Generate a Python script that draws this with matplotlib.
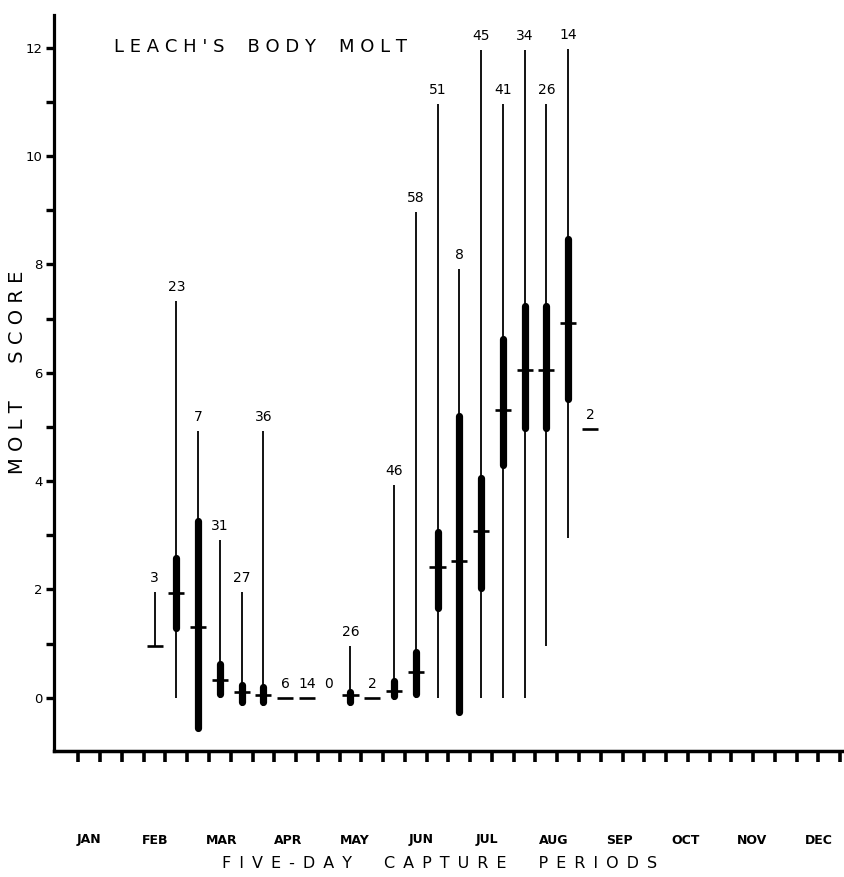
import matplotlib
matplotlib.use("Agg")
import matplotlib.pyplot as plt
import matplotlib.transforms as mtransforms
import numpy as np

# five-day capture periods that have birds (index along the axis)
periods = [3, 4, 5, 6, 7, 8, 9, 10, 11, 12, 13, 14, 15, 16, 17, 18, 19, 20, 21, 22, 23]
counts = [3, 23, 7, 31, 27, 36, 6, 14, 0, 26, 2, 46, 58, 51, 8, 45, 41, 34, 26, 14, 2]
nan = np.nan
mean_score = [0.95, 1.94, 1.31, 0.33, 0.10, 0.05, 0.0, 0.0, nan, 0.05, 0.0, 0.13,
              0.48, 2.41, 2.52, 3.08, 5.32, 6.05, 6.05, 6.92, 4.97]
min_score = [0.95, 0.0, -0.6, 0.0, -0.15, -0.15, 0.0, 0.0, nan, -0.15, 0.0, -0.04,
             0.0, 0.0, -0.32, 0.0, 0.0, 0.0, 0.95, 2.95, 4.97]
max_score = [1.95, 7.32, 4.93, 2.92, 1.96, 4.93, 0.0, 0.0, nan, 0.95, 0.0, 3.92,
             8.96, 10.95, 7.92, 11.95, 10.95, 11.95, 10.95, 11.97, 4.97]
sd_low = [nan, 1.22, -0.62, 0.0, -0.15, -0.15, nan, nan, nan, -0.15, nan, -0.04,
          0.0, 1.6, -0.32, 1.96, 4.23, 4.92, 4.92, 5.45, nan]
sd_high = [nan, 2.65, 3.33, 0.70, 0.31, 0.26, nan, nan, nan, 0.17, nan, 0.37,
           0.92, 3.13, 5.27, 4.12, 6.68, 7.30, 7.30, 8.54, nan]
months = ["JAN", "FEB", "MAR", "APR", "MAY", "JUN", "JUL", "AUG", "SEP", "OCT", "NOV", "DEC"]


def spaced(text, gap, word_gap):
    # letter-spaced lettering like the original stencil text
    return word_gap.join(gap.join(w) for w in text.split(" "))


W, H = 845, 877
fig = plt.figure(figsize=(W / 100, H / 100), dpi=100)
ax = fig.add_axes([54 / W, 126 / H, 791 / W, 736 / H])
ax.set_xlim(-1.12, 35.22)
ax.set_ylim(-0.98, 12.6)

thick_lw = 5.2
# radius of the round cap, in data units, so the rounded ends land on the values
cap = thick_lw * 100 / 72 / 2 / (736 / 13.58)

for i, p in enumerate(periods):
    x = p + 0.5
    n = counts[i]
    if n == 0:
        ax.annotate("0", (x, 0), xytext=(0, 5), textcoords="offset points",
                    ha="center", va="bottom", fontsize=10)
        continue
    lo, hi = min_score[i], max_score[i]
    if hi > lo:
        ax.vlines(x, lo, hi, color="black", lw=1.3)
    if not np.isnan(sd_low[i]):
        ax.plot([x, x], [sd_low[i] + cap, sd_high[i] - cap], color="black",
                lw=thick_lw, solid_capstyle="round")
    ax.hlines(mean_score[i], x - 0.37, x + 0.37, color="black", lw=1.9)
    ax.annotate(str(n), (x, hi), xytext=(0, 5), textcoords="offset points",
                ha="center", va="bottom", fontsize=10)

ax.spines["top"].set_visible(False)
ax.spines["right"].set_visible(False)
ax.spines["left"].set_linewidth(2.3)
ax.spines["bottom"].set_linewidth(2.5)

ax.set_xticks(np.arange(36))
ax.set_xticklabels([])
ax.tick_params(axis="x", direction="out", length=8, width=2.6)
ax.set_yticks(np.arange(0, 13, 2))
ax.set_yticks(np.arange(1, 12, 2), minor=True)
ax.tick_params(axis="y", which="both", direction="out", length=6, width=2.4,
               labelsize=9.5, pad=2)

trans = mtransforms.blended_transform_factory(ax.transData, fig.transFigure)
for m, xm in zip(months, np.linspace(0.5, 34.0, 12)):
    ax.text(xm, (H - 840) / H, m, transform=trans, ha="center", va="center",
            fontsize=9, fontweight="bold")

en = "\u2002"
fig.text(440 / W, (H - 863) / H, spaced("FIVE-DAY CAPTURE PERIODS", en, en * 4),
         ha="center", va="center", fontsize=11.5)
fig.text(18 / W, 1 - 372 / H, spaced("MOLT SCORE", " ", " " * 6), rotation=90,
         ha="center", va="center", fontsize=14)
fig.text(261 / W, 1 - 47 / H, spaced("LEACH'S BODY MOLT", " ", " " * 4),
         ha="center", va="center", fontsize=13)

fig.savefig("out.png", dpi=100)
